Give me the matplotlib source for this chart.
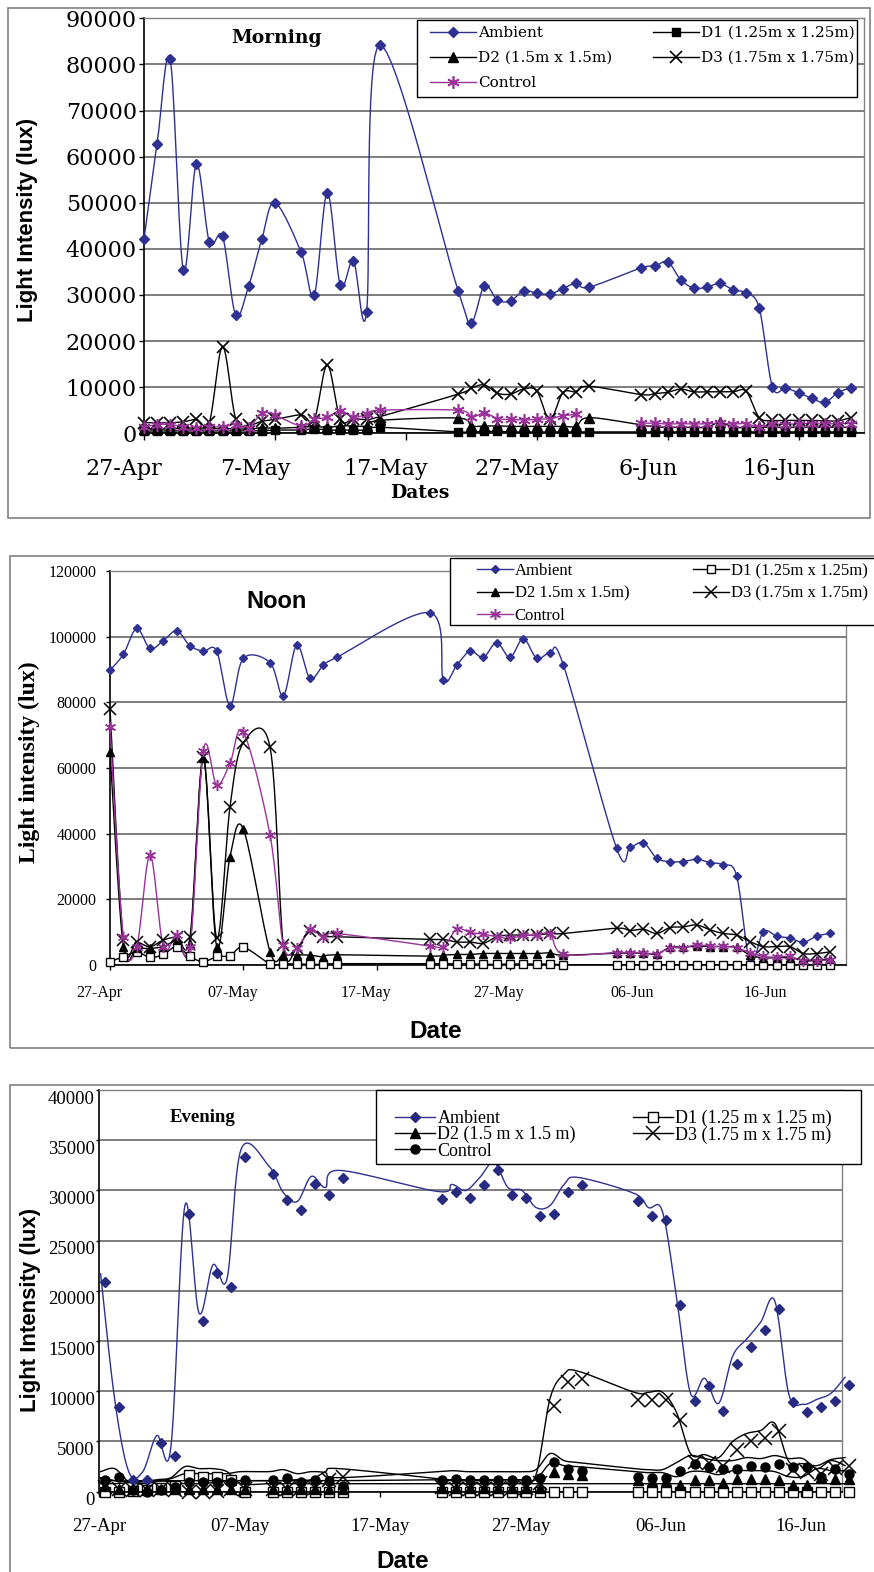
"""Morning / noon / evening light intensity under the shade structures (three stacked panels)."""

import numpy as np
import matplotlib
matplotlib.use("Agg")
import matplotlib.pyplot as plt
from matplotlib.lines import Line2D
from matplotlib.patches import Rectangle
from matplotlib.transforms import ScaledTranslation

FIG_W, FIG_H, DPI = 874, 1572, 100

NAVY = "#2E3192"
PURPLE = "#993399"
GRID = "#5a5a5a"
FRAME = "#808080"

# x positions are days after 27 April
TICK_DAYS = [0, 10, 20, 30, 40, 50]
TICKS_MORNING = ["27-Apr", "7-May", "17-May", "27-May", "6-Jun", "16-Jun"]
TICKS_OTHER = ["27-Apr", "07-May", "17-May", "27-May", "06-Jun", "16-Jun"]

NAMES_MORNING = ["Ambient", "D1 (1.25m x 1.25m)", "D2 (1.5m x 1.5m)", "D3 (1.75m x 1.75m)", "Control"]
NAMES_NOON = ["Ambient", "D1 (1.25m x 1.25m)", "D2 1.5m x 1.5m)", "D3 (1.75m x 1.75m)", "Control"]
NAMES_EVENING = ["Ambient", "D1 (1.25 m x 1.25 m)", "D2 (1.5 m x 1.5 m)", "D3 (1.75 m x 1.75 m)", "Control"]

# ---- morning (values in klux) ----
MORNING_DAYS = list(range(0, 11)) + list(range(12, 19)) + list(range(24, 35)) + list(range(38, 55))
MORNING_AMBIENT = [42.1, 62.8, 81.1, 35.4, 58.4, 41.4, 42.7, 25.7, 32.0, 42.1, 50.0,
                   39.3, 29.9, 52.2, 32.1, 37.4, 26.2, 84.2,
                   30.9, 24.0, 32.0, 28.9, 28.7, 30.9, 30.4, 30.2, 31.4, 32.5, 31.7,
                   35.9, 36.2, 37.2, 33.3, 31.5, 31.7, 32.5, 31.1, 30.4, 27.1, 10.1, 9.8,
                   8.8, 7.6, 6.7, 8.8, 9.9]
MORNING_D1 = [0.5, 0.5, 0.5, 0.5, 0.5, 0.5, 0.5, 0.5, 0.5, 0.6, 0.7,
              0.7, 1.0, 0.7, 0.7, 0.7, 0.7, 1.3,
              0.3, 0.3, 0.4, 0.4, 0.3, 0.3, 0.3, 0.3, 0.3, 0.3, 0.3,
              0.3, 0.3, 0.3, 0.3, 0.3, 0.3, 0.3, 0.3, 0.3, 0.3, 0.3, 0.3,
              0.3, 0.3, 0.3, 0.3, 0.3]
MORNING_D2 = [0.9, 0.9, 1.0, 1.0, 0.9, 1.0, 1.0, 1.0, 0.9, 1.2, 1.1,
              1.3, 1.5, 1.3, 1.6, 1.6, 1.6, 2.8,
              3.3, 1.6, 1.6, 1.6, 1.5, 1.5, 1.5, 1.5, 1.5, 1.5, 3.4,
              1.8, 1.4, 1.3, 1.3, 1.3, 1.3, 2.4, 1.3, 1.3, 1.3, 1.3, 1.3,
              1.3, 1.3, 1.3, 1.3, 1.3]
MORNING_D3 = [2.3, 2.3, 2.3, 2.5, 3.0, 2.5, 18.8, 3.2, 1.8, 2.6, 3.0,
              4.0, 2.9, 14.8, 3.0, 3.2, 3.0, 3.6,
              8.5, 9.8, 10.5, 8.7, 8.5, 9.6, 9.2, 3.0, 8.8, 9.0, 10.2,
              8.4, 8.6, 8.9, 9.6, 9.0, 9.0, 9.0, 9.0, 9.1, 3.4, 2.8, 2.8,
              2.8, 2.8, 2.7, 2.7, 3.4]
MORNING_CONTROL = [1.4, 1.9, 1.9, 1.4, 1.2, 1.4, 1.4, 1.9, 1.2, 4.4, 3.9,
                   1.6, 3.0, 3.5, 4.9, 3.5, 4.1, 5.0,
                   5.0, 3.5, 4.4, 3.2, 3.0, 2.9, 3.0, 3.2, 3.8, 4.1, np.nan,
                   2.2, 2.2, 2.0, 2.1, 2.0, 2.1, 2.2, 2.0, 2.1, 1.3, 2.0, 1.9,
                   2.1, 2.1, 2.0, 2.1, 2.1]

# ---- noon ----
NOON_DAYS = list(range(0, 11)) + list(range(12, 18)) + list(range(24, 35)) + list(range(38, 55))
NOON_AMBIENT = [89.8, 94.6, 102.5, 96.4, 98.8, 101.8, 97.2, 95.6, 95.6, 79.0, 93.4,
                92.1, 82.0, 97.4, 87.3, 91.3, 93.7,
                107.3, 86.8, 91.3, 95.6, 93.7, 98.2, 93.7, 99.4, 93.4, 94.9, 91.4,
                35.5, 35.8, 37.3, 32.5, 31.5, 31.5, 32.2, 31.2, 30.5, 27.1, 1.0, 10.1,
                8.8, 8.2, 6.9, 8.8, 9.6]
NOON_D1 = [1.0, 2.5, 4.0, 2.3, 3.2, 5.6, 2.6, 1.0, 2.6, 2.8, 5.4,
           0.4, 0.4, 0.3, 0.2, 0.2, 0.4,
           0.4, 0.4, 0.4, 0.4, 0.2, 0.2, 0.3, 0.3, 0.3, 0.3, 0.1,
           0.1, 0.1, 0.1, 0.1, 0.1, 0.1, 0.1, 0.1, 0.1, 0.1, 0.1, 0.1,
           0.1, 0.1, 0.1, 0.1, 0.1]
NOON_D2 = [64.9, 5.6, 5.1, 5.1, 5.6, 7.5, 6.5, 62.9, 5.6, 33.0, 41.4,
           4.1, 3.1, 3.1, 3.0, 2.5, 3.1,
           2.7, 3.0, 3.2, 3.2, 3.5, 3.5, 3.5, 3.5, 3.5, 3.7, 3.0,
           3.6, 3.6, 3.6, 3.3, 5.4, 5.4, 5.8, 5.6, 5.6, 5.4, 3.0, 2.2,
           2.2, 2.2, 1.5, 1.5, 1.8]
NOON_D3 = [78.1, 7.6, 7.1, 5.6, 7.6, 8.6, 8.6, 63.5, 8.2, 48.2, 67.7,
           66.4, 6.1, 5.1, 10.5, 8.6, 8.6,
           7.8, 7.8, 7.0, 7.0, 6.6, 8.6, 9.1, 9.1, 9.1, 9.6, 9.6,
           11.2, 10.5, 10.9, 9.6, 11.4, 11.6, 12.2, 10.7, 9.6, 9.1, 7.1, 5.6,
           5.6, 5.6, 3.5, 3.5, 4.0]
NOON_CONTROL = [72.4, 8.6, 5.6, 33.5, 5.6, 9.1, 5.6, 65.3, 54.8, 61.4, 71.0,
                39.6, 6.1, 5.1, 10.9, 8.6, 9.6,
                5.8, 5.4, 10.9, 9.9, 9.4, 8.6, 8.1, 9.0, 9.0, 9.5, 3.3,
                3.8, 3.7, 3.7, 3.5, 5.2, 5.2, 6.2, 5.7, 5.7, 5.2, 3.8, 2.6,
                2.4, 2.6, 1.2, 1.3, 1.5]

# ---- evening ----
EVENING_DAYS = list(range(0, 11)) + list(range(12, 18)) + list(range(24, 35)) + list(range(38, 54))
EVENING_AMBIENT = [20.9, 8.4, 1.2, 1.2, 4.8, 3.6, 27.7, 17.0, 21.8, 20.4, 33.3,
                   31.6, 29.0, 28.1, 30.6, 29.5, 31.2,
                   29.1, 29.8, 29.2, 30.5, 32.0, 29.5, 29.2, 27.5, 27.7, 29.8, 30.5,
                   28.9, 27.5, 27.1, 18.6, 9.0, 10.5, 8.0, 12.7, 14.4, 16.1, 18.2, 8.9,
                   7.9, 8.4, 9.0, 10.6]
EVENING_D1 = [0.0, 0.0, 0.1, 0.2, 0.4, 0.6, 1.7, 1.5, 1.5, 1.2, 0.0,
              0.0, 0.0, 0.0, 0.0, 0.0, 0.0,
              0.0, 0.0, 0.0, 0.0, 0.0, 0.0, 0.0, 0.0, 0.0, 0.0, 0.0,
              0.0, 0.0, 0.0, 0.0, 0.0, 0.0, 0.0, 0.0, 0.0, 0.0, 0.0, 0.0,
              0.0, 0.0, 0.0, 0.0]
EVENING_D2 = [0.6, 0.3, 0.3, 0.3, 0.3, 0.3, 0.3, 0.3, 0.3, 0.3, 0.3,
              0.3, 0.3, 0.3, 0.3, 0.3, 0.3,
              0.4, 0.4, 0.4, 0.4, 0.4, 0.4, 0.4, 0.4, 2.0, 1.8, 1.7,
              1.2, 1.1, 1.1, 0.7, 1.2, 1.2, 0.9, 1.3, 1.3, 1.3, 1.2, 0.7,
              0.7, 1.5, 1.3, 1.3]
EVENING_D3 = [0.5, 0.3, 0.2, 0.2, 0.3, 0.2, 0.0, 0.0, 0.1, 0.3, 0.3,
              0.3, 0.3, 0.4, 0.4, 1.2, 1.5,
              0.5, 0.3, 0.3, 0.3, 0.3, 0.4, 0.4, 0.9, 8.5, 10.9, 11.2,
              9.1, 9.1, 9.1, 7.1, 3.0, 2.9, 2.6, 4.2, 5.0, 5.3, 6.0, 2.2,
              2.0, 1.8, 2.4, 2.6]
EVENING_CONTROL = [1.2, 1.5, 0.2, 0.0, 0.2, 0.5, 1.0, 1.0, 1.0, 1.0, 1.2,
                   1.2, 1.4, 1.0, 1.2, 1.1, 0.6,
                   1.2, 1.3, 1.2, 1.2, 1.2, 1.2, 1.2, 1.4, 3.0, 2.3, 2.1,
                   1.5, 1.4, 1.4, 2.1, 2.8, 2.5, 2.3, 2.3, 2.6, 2.5, 2.8, 2.5,
                   2.5, 1.5, 2.3, 1.8]


def px_axes(fig, left, top, right, bottom):
    return fig.add_axes([left / FIG_W, 1 - bottom / FIG_H,
                         (right - left) / FIG_W, (bottom - top) / FIG_H])


def fx(x):
    return x / FIG_W


def fy(y):
    return 1 - y / FIG_H


def smooth(xs, ys, steps=16):
    """Excel-like smoothed line (Catmull-Rom Bezier) through the points, broken at NaN."""
    xs = np.asarray(xs, float)
    ys = np.asarray(ys, float)
    ok = ~np.isnan(ys)
    out_x, out_y = [], []
    idx = np.arange(len(xs))
    runs = np.split(idx[ok], np.where(np.diff(idx[ok]) != 1)[0] + 1)
    t = np.linspace(0, 1, steps, endpoint=False)[:, None]
    for run in runs:
        if len(run) == 0:
            continue
        p = np.column_stack([xs[run], ys[run]])
        ext = np.vstack([p[:1], p, p[-1:]])
        for i in range(len(p) - 1):
            p0, p1, p2, p3 = ext[i], ext[i + 1], ext[i + 2], ext[i + 3]
            c1 = p1 + (p2 - p0) / 6
            c2 = p2 - (p3 - p1) / 6
            b = ((1 - t) ** 3) * p1 + 3 * ((1 - t) ** 2) * t * c1 + 3 * (1 - t) * t ** 2 * c2 + t ** 3 * p2
            out_x.extend(b[:, 0])
            out_y.extend(b[:, 1])
        out_x.extend([p[-1, 0], np.nan])
        out_y.extend([p[-1, 1], np.nan])
    return np.array(out_x), np.array(out_y)


def draw(ax, days, klux, st, line_tf=None, clip=True, z=3):
    vals = np.asarray(klux, float) * 1000
    sx, sy = smooth(days, vals)
    ax.plot(sx, sy, color=st["lc"], lw=st.get("lw", 1.0), clip_on=clip, zorder=z,
            transform=line_tf if line_tf is not None else ax.transData)
    ax.plot(days, vals, ls="none", marker=st["m"], ms=st["ms"], mfc=st.get("mfc", st["mc"]),
            mec=st["mc"], mew=st.get("mew", 1.0), clip_on=False, zorder=z + 0.5)


def handle(st):
    return Line2D([], [], color=st["lc"], lw=st.get("lw", 1.0), marker=st["m"], ms=st["ms"],
                  mfc=st.get("mfc", st["mc"]), mec=st["mc"], mew=st.get("mew", 1.0))


def style_axes(ax, ymax, ystep, xlim, ticks, tick_labels, tick_font, tick_size,
               ylen, ypad, xlen, xpad):
    ax.set_xlim(*xlim)
    ax.set_ylim(0, ymax)
    yt = np.arange(0, ymax + 1, ystep)
    ax.set_yticks(yt)
    ax.set_yticklabels([str(int(v)) for v in yt], fontfamily=tick_font, fontsize=tick_size)
    ax.set_xticks(ticks)
    ax.set_xticklabels(tick_labels, fontfamily=tick_font, fontsize=tick_size)
    ax.yaxis.grid(True, color=GRID, lw=1.1)
    ax.set_axisbelow(True)
    ax.tick_params(axis="y", direction="out", length=ylen, pad=ypad, width=1)
    ax.tick_params(axis="x", direction="out", length=xlen, pad=xpad, width=1)
    for side in ("left", "bottom"):
        ax.spines[side].set_color("black")
        ax.spines[side].set_linewidth(1.2)
    for side in ("top", "right"):
        ax.spines[side].set_color(FRAME)
        ax.spines[side].set_linewidth(1.0)
    ax.patch.set_alpha(0)


def shift_labels(fig, labels, dx, dy):
    off = ScaledTranslation(dx / DPI, dy / DPI, fig.dpi_scale_trans)
    for lab in labels:
        lab.set_transform(lab.get_transform() + off)


def legend_block(fig, styles, names, rows_left, rows_right, x_left, x_right, y_top, font, size,
                 hlen, tpad, lspace, box):
    handles = [handle(s) for s in styles]
    for cols, x in ((rows_left, x_left), (rows_right, x_right)):
        fig.legend([handles[i] for i in cols], [names[i] for i in cols], loc="upper left",
                   bbox_to_anchor=(fx(x), fy(y_top)), frameon=False, borderpad=0, borderaxespad=0,
                   handlelength=hlen, handletextpad=tpad, labelspacing=lspace, numpoints=1,
                   prop={"family": font, "size": size})
    l, t, r, b = box
    fig.add_artist(Rectangle((fx(l), fy(b)), fx(r - l), (b - t) / FIG_H, transform=fig.transFigure,
                             fill=True, facecolor="white", edgecolor="black", lw=1.0, zorder=5))


def frame(fig, l, t, r, b):
    fig.add_artist(Rectangle((fx(l), fy(b)), fx(r - l), (b - t) / FIG_H, transform=fig.transFigure,
                             fill=False, edgecolor=FRAME, lw=1.2))


def main():
    fig = plt.figure(figsize=(FIG_W / DPI, FIG_H / DPI), dpi=DPI)
    fig.patch.set_facecolor("white")

    frame(fig, 8, 8, 870, 518)
    frame(fig, 10, 556, 884, 1048)
    frame(fig, 10, 1085, 884, 1590)

    # ---------------- Morning ----------------
    m_st = [
        {"lc": NAVY, "mc": NAVY, "m": "D", "ms": 5},
        {"lc": "black", "mc": "black", "m": "s", "ms": 6},
        {"lc": "black", "mc": "black", "m": "^", "ms": 6.5},
        {"lc": "black", "mc": "black", "m": "x", "ms": 9, "mew": 1.2},
        {"lc": PURPLE, "mc": PURPLE, "m": (6, 2, 0), "ms": 9, "mew": 1.2},
    ]
    ax1 = px_axes(fig, 144, 18.3, 864, 433.3)
    style_axes(ax1, 90000, 10000, (0, 55), TICK_DAYS, TICKS_MORNING, "DejaVu Serif", 16,
               3.6, 1.5, 5, 13)
    shift_labels(fig, ax1.get_xticklabels(), -20, 0)
    for vals, st in zip([MORNING_AMBIENT, MORNING_D1, MORNING_D2, MORNING_D3, MORNING_CONTROL], m_st):
        draw(ax1, MORNING_DAYS, vals, st)
    fig.text(fx(277), fy(38), "Morning", family="DejaVu Serif", weight="bold", fontsize=13.5,
             ha="center", va="center")
    fig.text(fx(420), fy(493), "Dates", family="DejaVu Serif", weight="bold", fontsize=13.5,
             ha="center", va="center")
    fig.text(fx(28), fy(220), "Light Intensity (lux)", family="Liberation Sans", weight="bold",
             fontsize=16, rotation=90, ha="center", va="center")
    legend_block(fig, m_st, NAMES_MORNING, [0, 2, 4], [1, 3], 430, 653, 26, "DejaVu Serif", 11,
                 3.0, 0.15, 0.72, (417, 20, 857, 97))

    # ---------------- Noon ----------------
    n_st = [
        {"lc": NAVY, "mc": NAVY, "m": "D", "ms": 4.5},
        {"lc": "black", "mc": "black", "mfc": "white", "m": "s", "ms": 6},
        {"lc": "black", "mc": "black", "m": "^", "ms": 6},
        {"lc": "black", "mc": "black", "m": "x", "ms": 9, "mew": 1.1},
        {"lc": PURPLE, "mc": PURPLE, "m": (6, 2, 0), "ms": 8, "mew": 1.1},
    ]
    ax2 = px_axes(fig, 110, 571, 846, 965)
    style_axes(ax2, 120000, 20000, (0, 55.2), TICK_DAYS, TICKS_OTHER, "Liberation Serif", 11.5,
               2.9, 7, 3.6, 11)
    shift_labels(fig, ax2.get_xticklabels(), -11, 0)
    for vals, st in zip([NOON_AMBIENT, NOON_D1, NOON_D2, NOON_D3, NOON_CONTROL], n_st):
        draw(ax2, NOON_DAYS, vals, st)
    fig.text(fx(277), fy(602), "Noon", family="Liberation Sans", weight="bold", fontsize=17,
             ha="center", va="center")
    fig.text(fx(436), fy(1031), "Date", family="Liberation Sans", weight="bold", fontsize=17.5,
             ha="center", va="center")
    fig.text(fx(29), fy(762), "Light intensity (lux)", family="Liberation Serif", weight="bold",
             fontsize=17, rotation=90, ha="center", va="center")
    legend_block(fig, n_st, NAMES_NOON, [0, 2, 4], [1, 3], 477, 693, 563, "Liberation Serif", 12,
                 2.15, 0.12, 0.4, (450, 558, 884, 625))

    # ---------------- Evening ----------------
    e_st = [
        {"lc": NAVY, "mc": "#262A80", "m": "D", "ms": 5.5},
        {"lc": "black", "mc": "black", "mfc": "white", "m": "s", "ms": 6.5},
        {"lc": "black", "mc": "black", "m": "^", "ms": 6.5},
        {"lc": "black", "mc": "black", "m": "x", "ms": 10, "mew": 1.1},
        {"lc": "black", "mc": "black", "m": "o", "ms": 6.5},
    ]
    ax3 = px_axes(fig, 99, 1090, 842, 1491.7)
    style_axes(ax3, 40000, 5000, (-0.4, 52.5), [d - 0.4 for d in TICK_DAYS], TICKS_OTHER,
               "Liberation Serif", 13.5, 2, 1, 3.6, 15)
    shift_labels(fig, ax3.get_yticklabels(), 0, -7)
    line_tf = ax3.transData + ScaledTranslation(-4 / DPI, 8 / DPI, fig.dpi_scale_trans)
    for vals, st in zip([EVENING_AMBIENT, EVENING_D1, EVENING_D2, EVENING_D3, EVENING_CONTROL], e_st):
        draw(ax3, EVENING_DAYS, vals, st, line_tf=line_tf, clip=False)
    fig.text(fx(203), fy(1118), "Evening", family="Liberation Serif", weight="bold", fontsize=13.5,
             ha="center", va="center")
    fig.text(fx(403), fy(1562), "Date", family="Liberation Sans", weight="bold", fontsize=17.5,
             ha="center", va="center")
    fig.text(fx(31), fy(1310), "Light Intensity (lux)", family="Liberation Sans", weight="bold",
             fontsize=16, rotation=90, ha="center", va="center")
    legend_block(fig, e_st, NAMES_EVENING, [0, 2, 4], [1, 3], 395, 633, 1110, "Liberation Serif", 13,
                 2.2, 0.15, -0.05, (376, 1090, 861, 1164))

    fig.savefig("out.png", dpi=DPI, facecolor="white")
    plt.close(fig)


if __name__ == "__main__":
    main()
